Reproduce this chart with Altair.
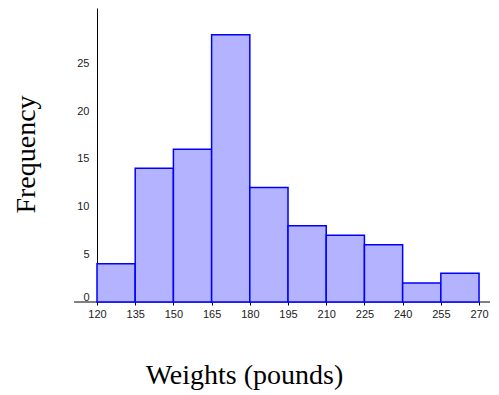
import altair as alt
import pandas as pd

bin_start = [120, 135, 150, 165, 180, 195, 210, 225, 240, 255]
bin_end = [135, 150, 165, 180, 195, 210, 225, 240, 255, 270]
counts = [4, 14, 16, 28, 12, 8, 7, 6, 2, 3]
x_ticks = [120, 135, 150, 165, 180, 195, 210, 225, 240, 255, 270]
y_ticks = [0, 5, 10, 15, 20, 25]

df = pd.DataFrame({"start": bin_start, "end": bin_end, "count": counts})
axis_df = pd.DataFrame({"start": [111.0], "end": [274.3], "count": [0]})

xscale = alt.Scale(domain=[120, 274.3], nice=False, zero=False)
yscale = alt.Scale(domain=[0, 30.8], nice=False)

xaxis = alt.Axis(
    values=x_ticks,
    domain=False,
    grid=False,
    tickSize=3,
    tickColor="black",
    labelPadding=3,
    labelFont="Liberation Sans",
    labelFontSize=11,
    labelColor="#222222",
    labelFlush=False,
    labelOverlap=False,
    title="Weights (pounds)",
    titleFont="Liberation Serif",
    titleFontSize=28,
    titleFontWeight="normal",
    titleColor="black",
    titleX=147,
    titleY=81,
    titleAlign="center",
    titleBaseline="alphabetic",
)
yaxis = alt.Axis(
    values=y_ticks,
    domain=True,
    domainColor="black",
    domainWidth=1,
    ticks=False,
    grid=False,
    labelPadding=8,
    labelFont="Liberation Sans",
    labelFontSize=11,
    labelColor="#222222",
    labelFlush=True,
    title="Frequency",
    titleFont="Liberation Serif",
    titleFontSize=28,
    titleFontWeight="normal",
    titleColor="black",
    titleAngle=270,
    titleX=-63,
    titleY=146,
    titleAlign="center",
    titleBaseline="alphabetic",
)

base_rule = alt.Chart(axis_df).mark_rule(color="black", strokeWidth=1).encode(
    x=alt.X("start:Q", scale=xscale, axis=xaxis),
    x2="end:Q",
    y=alt.Y("count:Q", scale=yscale, axis=yaxis),
)

bars = alt.Chart(df).mark_rect(
    fill="#b3b3ff", stroke="#0000ff", strokeWidth=1.5
).encode(
    x=alt.X("start:Q", scale=xscale, axis=xaxis),
    x2="end:Q",
    y=alt.Y("count:Q", scale=yscale, axis=yaxis),
    y2=alt.datum(0),
)

chart = (
    alt.layer(base_rule, bars)
    .properties(
        width=393,
        height=294,
        autosize=alt.AutoSizeParams(type="none"),
        padding={"left": 89, "top": 0, "right": 1, "bottom": 100},
    )
    .configure_view(stroke=None)
)

chart.save("out.html", embed_options={"renderer": "svg", "actions": False})
